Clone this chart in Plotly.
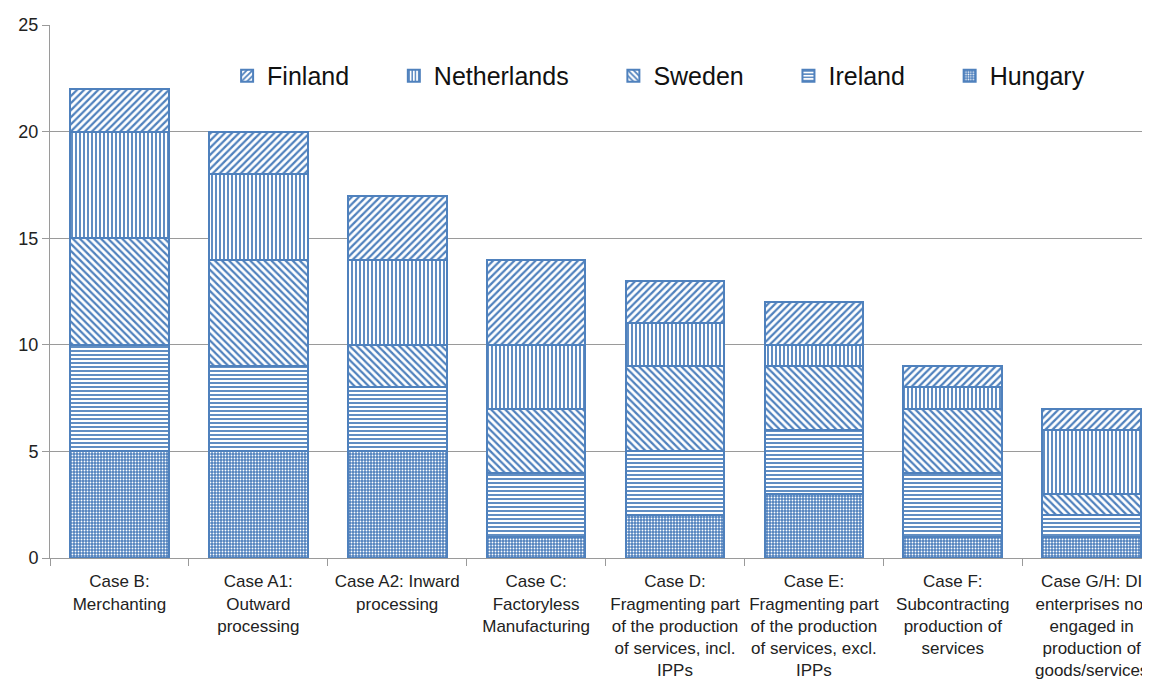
import plotly.graph_objects as go

categories = [
    "Case B:<br>Merchanting",
    "Case A1:<br>Outward<br>processing",
    "Case A2: Inward<br>processing",
    "Case C:<br>Factoryless<br>Manufacturing",
    "Case D:<br>Fragmenting part<br>of the production<br>of services, incl.<br>IPPs",
    "Case E:<br>Fragmenting part<br>of the production<br>of services, excl.<br>IPPs",
    "Case F:<br>Subcontracting<br>production of<br>services",
    "Case G/H: DI<br>enterprises not<br>engaged in<br>production of<br>goods/services",
]

hungary = [5, 5, 5, 1, 2, 3, 1, 1]
ireland = [5, 4, 3, 3, 3, 3, 3, 1]
sweden = [5, 5, 2, 3, 4, 3, 3, 1]
netherlands = [5, 4, 4, 3, 2, 1, 1, 3]
finland = [2, 2, 3, 4, 2, 2, 1, 1]

blue = "#4f81bd"
pad = "\u00a0" * 5 + "\u2009"  # extra room between legend entries

series = [
    ("Hungary", hungary, dict(shape=".", fgcolor="white", bgcolor=blue, size=3, solidity=0.3)),
    ("Ireland" + pad, ireland, dict(shape="-", fgcolor=blue, bgcolor="white", size=4, solidity=0.45)),
    ("Sweden" + pad, sweden, dict(shape="\\", fgcolor=blue, bgcolor="white", size=5, solidity=0.45)),
    ("Netherlands" + pad, netherlands, dict(shape="|", fgcolor=blue, bgcolor="white", size=4, solidity=0.45)),
    ("Finland" + pad, finland, dict(shape="/", fgcolor=blue, bgcolor="white", size=5, solidity=0.45)),
]

fig = go.Figure()
for name, vals, pat in series:
    fig.add_trace(go.Bar(
        name=name, x=categories, y=vals,
        marker=dict(color="white", pattern=dict(fillmode="replace", **pat),
                    line=dict(color=blue, width=2)),
        width=0.71,
    ))

# page body has an 8px margin, so shrink the figure to keep the plot where it should be
fig.update_layout(
    barmode="stack",
    width=1142, height=682,
    margin=dict(l=42, r=0, t=17, b=132),
    plot_bgcolor="white", paper_bgcolor="white",
    font=dict(family="Liberation Sans, Arial", color="#222"),
    legend=dict(orientation="h", traceorder="reversed", x=0.161, y=0.9475,
                xanchor="left", yanchor="top", font=dict(size=25, color="#111"),
                bgcolor="rgba(255,255,255,0)"),
    showlegend=True,
)
fig.update_yaxes(range=[0, 25], dtick=5, showgrid=True, gridcolor="#9a9a9a", gridwidth=1,
                 showline=True, linecolor="#9a9a9a", ticks="outside", ticklen=7,
                 tickcolor="#9a9a9a", tickfont=dict(size=18), zeroline=False,
                 automargin=False)
fig.update_xaxes(range=[-0.5, 7.42], showline=True, linecolor="#9a9a9a",
                 ticks="outside", tickcolor="#9a9a9a", ticklen=7, tickson="boundaries",
                 tickfont=dict(size=17), tickangle=0, automargin=False,
                 ticklabelstandoff=8)

fig.write_html("out.html")
